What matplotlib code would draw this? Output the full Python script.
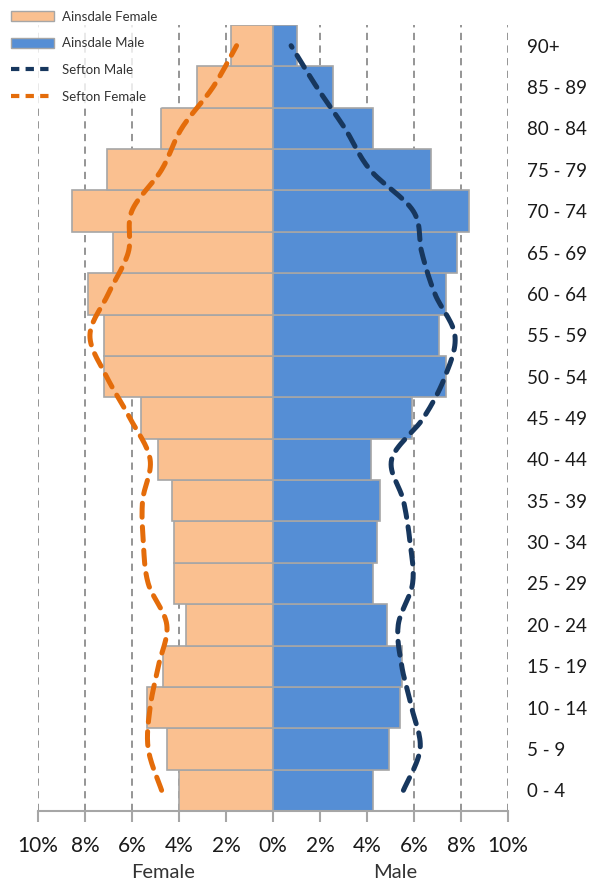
import numpy as np
import matplotlib
matplotlib.use('Agg')
import matplotlib.pyplot as plt
from matplotlib.lines import Line2D
from matplotlib.patches import Patch

plt.rcParams['font.family'] = ['Lato', 'DejaVu Sans']

# age bands, bottom to top
age_groups = ['0 - 4', '5 - 9', '10 - 14', '15 - 19', '20 - 24', '25 - 29', '30 - 34',
              '35 - 39', '40 - 44', '45 - 49', '50 - 54', '55 - 59', '60 - 64',
              '65 - 69', '70 - 74', '75 - 79', '80 - 84', '85 - 89', '90+']

# percentage of population in each band
ainsdale_female = [4.0, 4.5, 5.35, 4.67, 3.72, 4.2, 4.2, 4.28, 4.88, 5.62,
                   7.19, 7.19, 7.86, 6.8, 8.54, 7.08, 4.77, 3.23, 1.79]
ainsdale_male = [4.24, 4.94, 5.4, 5.5, 4.84, 4.24, 4.44, 4.55, 4.16, 5.9,
                 7.36, 7.08, 7.35, 7.84, 8.35, 6.71, 4.27, 2.54, 1.0]
sefton_male = [5.55, 6.26, 5.9, 5.48, 5.33, 5.94, 5.83, 5.55, 5.05, 6.4,
               7.32, 7.74, 6.89, 6.33, 5.97, 4.13, 3.06, 1.86, 0.77]
sefton_female = [4.74, 5.31, 5.23, 4.88, 4.52, 5.31, 5.52, 5.55, 5.23, 6.09,
                 7.08, 7.79, 7.01, 6.16, 6.01, 4.74, 3.89, 2.55, 1.55]

tick_values = [-10, -8, -6, -4, -2, 0, 2, 4, 6, 8, 10]
tick_labels = ['10%', '8%', '6%', '4%', '2%', '0%', '2%', '4%', '6%', '8%', '10%']

FEMALE_COLOR = '#FAC090'
MALE_COLOR = '#558ED5'
SEFTON_MALE_COLOR = '#17375E'
SEFTON_FEMALE_COLOR = '#E46C0A'
EDGE = '#A6A6A6'


def smooth(xs, ys, steps=16):
    # Catmull-Rom curve through the points, like Excel's smoothed line
    pts = np.column_stack([xs, ys]).astype(float)
    pts = np.vstack([pts[0], pts, pts[-1]])
    out = []
    for i in range(1, len(pts) - 2):
        p0, p1, p2, p3 = pts[i - 1], pts[i], pts[i + 1], pts[i + 2]
        for t in np.linspace(0, 1, steps, endpoint=False):
            t2, t3 = t * t, t * t * t
            out.append(0.5 * ((2 * p1) + (-p0 + p2) * t +
                              (2 * p0 - 5 * p1 + 4 * p2 - p3) * t2 +
                              (-p0 + 3 * p1 - 3 * p2 + p3) * t3))
    out.append(pts[-2])
    out = np.array(out)
    return out[:, 0], out[:, 1]


fig = plt.figure(figsize=(5.93, 8.84), dpi=100)
ax = fig.add_axes([38 / 593, 1 - 811 / 884, 470 / 593, 786 / 884])

y = np.arange(len(age_groups))
ax.barh(y, [-v for v in ainsdale_female], height=1.0, color=FEMALE_COLOR,
        edgecolor=EDGE, linewidth=1.2, zorder=2)
ax.barh(y, ainsdale_male, height=1.0, color=MALE_COLOR,
        edgecolor=EDGE, linewidth=1.2, zorder=2)

sx, sy = smooth(sefton_male, y)
ax.plot(sx, sy, color=SEFTON_MALE_COLOR, lw=3.6, dashes=(2.8, 1.9),
        dash_capstyle='round', zorder=3)
fx, fy = smooth([-v for v in sefton_female], y)
ax.plot(fx, fy, color=SEFTON_FEMALE_COLOR, lw=3.6, dashes=(2.8, 1.9),
        dash_capstyle='round', zorder=3)

ax.set_xlim(-10, 10)
ax.set_ylim(-0.5, len(age_groups) - 0.5)

# vertical dashed gridlines
for v in tick_values:
    if v != 0:
        ax.axvline(v, color='#8C8C8C', lw=1.3, dashes=(4, 3), zorder=1)

for s in ['top', 'right', 'left']:
    ax.spines[s].set_visible(False)
ax.spines['bottom'].set_color('#A6A6A6')
ax.spines['bottom'].set_linewidth(1.5)

ax.set_xticks(tick_values)
ax.set_xticklabels(tick_labels, fontsize=15, color='#1A1A1A')
ax.tick_params(axis='x', direction='out', length=8, width=1.5, color='#A6A6A6', pad=10)

ax.yaxis.tick_right()
ax.set_yticks(y)
ax.set_yticklabels(age_groups, fontsize=13.5, color='#1A1A1A')
ax.tick_params(axis='y', length=0, pad=14)

fig.text(163 / 593, 1 - 873 / 884, 'Female', fontsize=14.5, color='#333333',
         ha='center', va='center')
fig.text(395 / 593, 1 - 873 / 884, 'Male', fontsize=14.5, color='#333333',
         ha='center', va='center')

handles = [Patch(facecolor=FEMALE_COLOR, edgecolor=EDGE, label='Ainsdale Female'),
           Patch(facecolor=MALE_COLOR, edgecolor=EDGE, label='Ainsdale Male'),
           Line2D([], [], color=SEFTON_MALE_COLOR, lw=3, dashes=(2, 1.5), label='Sefton Male'),
           Line2D([], [], color=SEFTON_FEMALE_COLOR, lw=3, dashes=(2, 1.5), label='Sefton Female')]
leg = fig.legend(handles=handles, loc='upper left', bbox_to_anchor=(0.005, 0.997),
                 fontsize=9.5, frameon=True, handlelength=3.3, handleheight=0.8,
                 labelspacing=1.12, borderaxespad=0.2, handletextpad=0.55)
leg.get_frame().set_facecolor('white')
leg.get_frame().set_edgecolor('none')
for t in leg.get_texts():
    t.set_color('#333333')

fig.savefig('out.png', dpi=100)
